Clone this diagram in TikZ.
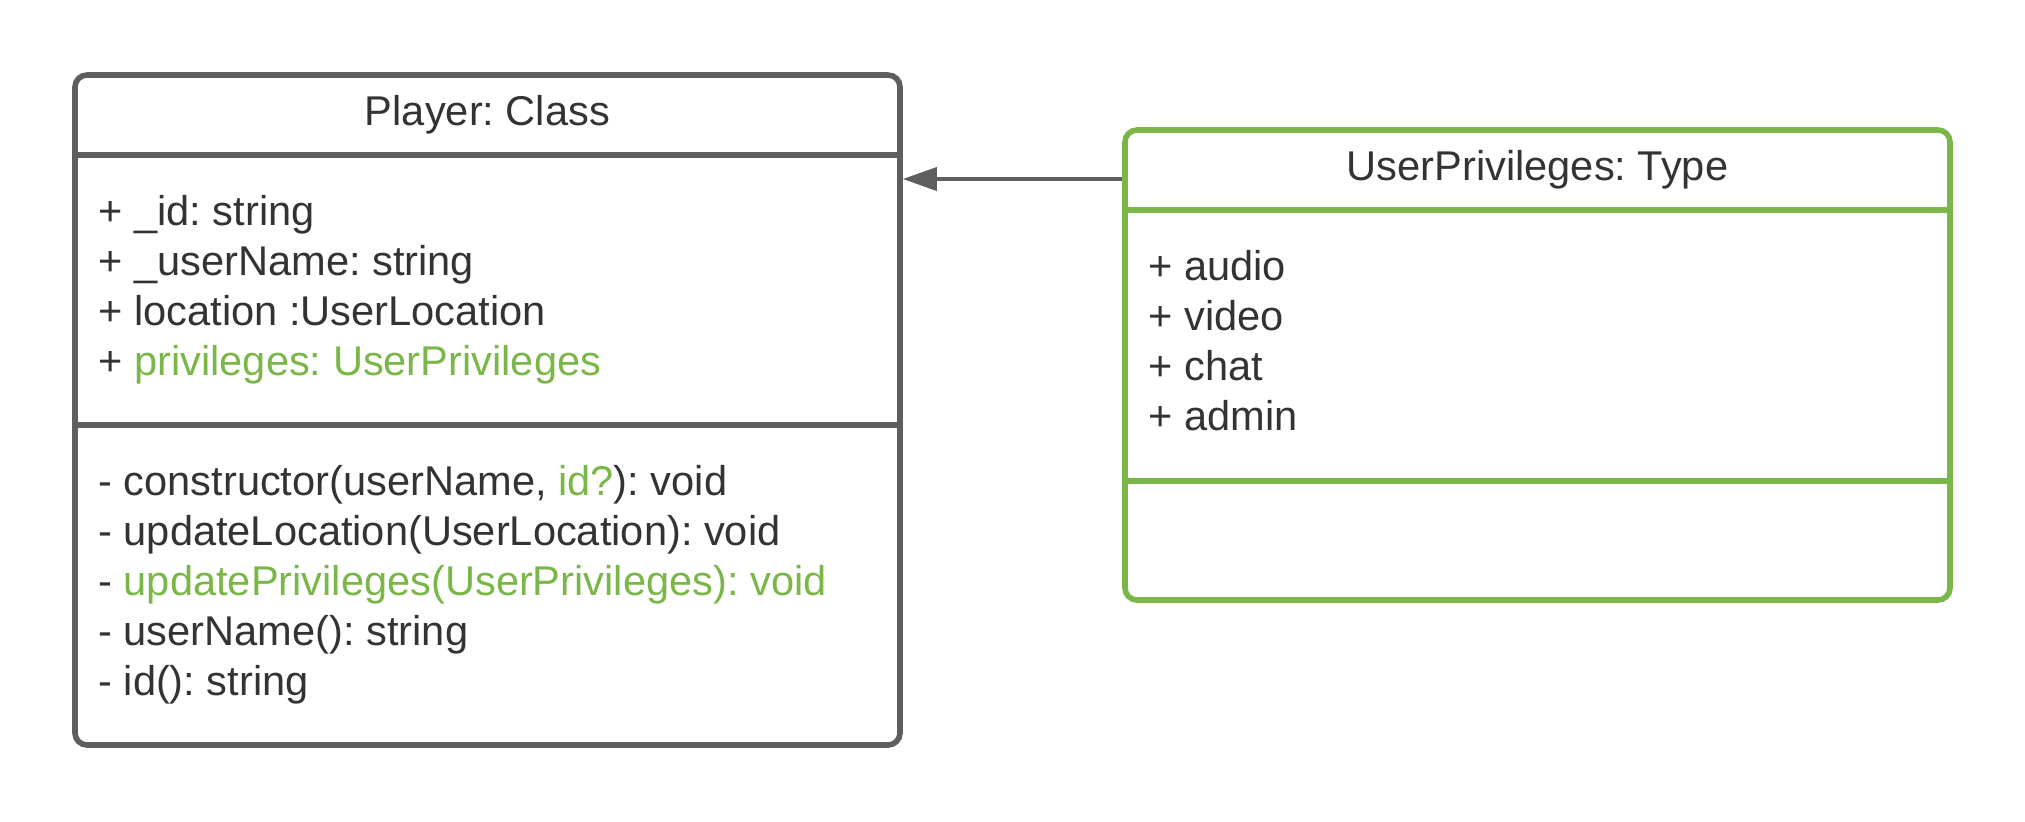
\documentclass[tikz,border=0pt]{standalone}
\usepackage{fontspec}
\setmainfont{Liberation Sans}
\usepackage{tikz}
\usetikzlibrary{arrows.meta,positioning,calc}
\usepackage{xcolor}
\definecolor{umlgray}{HTML}{5E5E5E}
\definecolor{umlgreen}{HTML}{7AB648}
\definecolor{umltext}{HTML}{333333}
\frenchspacing

\begin{document}
\begin{tikzpicture}[
    x=0.5pt, y=-0.5pt,
    classbox/.style={rectangle, draw, line width=2.8pt, rounded corners=6pt, minimum width=412.5pt},
    divider/.style={line width=2.8pt},
    title/.style={inner sep=0pt, anchor=base, font=\fontsize{20.8pt}{25pt}\selectfont, text=umltext},
    member/.style={inner sep=0pt, anchor=base west, font=\fontsize{20.8pt}{25pt}\selectfont, text=umltext},
    arrow/.style={-{Triangle[length=17pt, width=11.5pt]}, line width=1.8pt, draw=umlgray}
]
    \useasboundingbox (0,0) rectangle (2025,821);

    % Player class
    \node[classbox, draw=umlgray, minimum height=335pt] (player) at (487.5,410) {};
    \draw[divider, umlgray] (player.west |- 0,155) -- (player.east |- 0,155);
    \draw[divider, umlgray] (player.west |- 0,425) -- (player.east |- 0,425);
    \node[title] (playertitle) at (487.5,125) {Player: Class};

    % Attributes
    \node[member] (attrid) at (98,225) {+ \_id: string};
    \node[member] (attrname) at (98,275) {+ \_userName: string};
    \node[member] (attrloc) at (98,325) {+ location :UserLocation};
    \node[member] (attrpriv) at (98,375) {+ \textcolor{umlgreen}{privileges: UserPrivileges}};

    % Methods
    \node[member] (opctor) at (98,495) {- constructor(userName, \textcolor{umlgreen}{id?}): void};
    \node[member] (opupdloc) at (98,545) {- updateLocation(UserLocation): void};
    \node[member] (opupdpriv) at (98,595) {- \textcolor{umlgreen}{updatePrivileges(UserPrivileges): void}};
    \node[member] (opname) at (98,645) {- userName(): string};
    \node[member] (opid) at (98,695) {- id(): string};

    % UserPrivileges type
    \node[classbox, draw=umlgreen, minimum height=235pt] (privs) at (1537.5,365) {};
    \draw[divider, umlgreen] (privs.west |- 0,210) -- (privs.east |- 0,210);
    \draw[divider, umlgreen] (privs.west |- 0,481) -- (privs.east |- 0,481);
    \node[title] (privstitle) at (1537.5,180) {UserPrivileges: Type};

    \node[member] (audio) at (1148,280) {+ audio};
    \node[member] (video) at (1148,330) {+ video};
    \node[member] (chat) at (1148,380) {+ chat};
    \node[member] (admin) at (1148,430) {+ admin};

    % Edge
    \draw[arrow] (privs.west |- 0,179) -- (player.east |- 0,179);
\end{tikzpicture}
\end{document}
